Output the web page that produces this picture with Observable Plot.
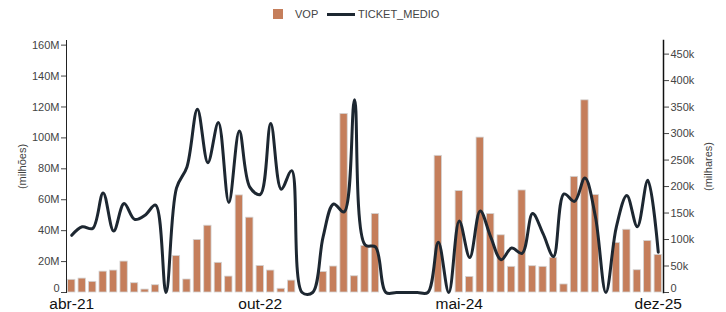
<!DOCTYPE html>
<html><head><meta charset="utf-8">
<script src="https://cdn.jsdelivr.net/npm/d3@7"></script>
<script src="https://cdn.jsdelivr.net/npm/@observablehq/plot@0.6"></script>
<style>
body{margin:0;background:#fff;font-family:"Liberation Sans",Arial,sans-serif;}
#legend{height:24px;position:relative;font-size:11px;color:#444;}
#legend .sq{position:absolute;left:273px;top:9px;width:10px;height:10px;}
#legend .ln{position:absolute;left:327px;top:13px;width:28px;height:3px;}
#legend .t{position:absolute;top:8px;line-height:13px;}
</style></head><body>
<div id="legend"></div>
<div id="chart"></div>
<script>
const months = ["abr-21","mai-21","jun-21","jul-21","ago-21","set-21","out-21","nov-21","dez-21",
"jan-22","fev-22","mar-22","abr-22","mai-22","jun-22","jul-22","ago-22","set-22","out-22","nov-22","dez-22",
"jan-23","fev-23","mar-23","abr-23","mai-23","jun-23","jul-23","ago-23","set-23","out-23","nov-23","dez-23",
"jan-24","fev-24","mar-24","abr-24","mai-24","jun-24","jul-24","ago-24","set-24","out-24","nov-24","dez-24",
"jan-25","fev-25","mar-25","abr-25","mai-25","jun-25","jul-25","ago-25","set-25","out-25","nov-25","dez-25"];
// VOP in millions
const vop = [8.2,9.0,6.9,13.5,14.2,20.0,6.0,1.9,4.7,0,
23.6,8.4,34.0,43.2,19.2,10.3,62.8,48.4,17.2,14.2,
2.4,7.7,0,0,13.3,16.8,115.5,10.5,30.1,50.8,
0,0,0,0,0,88.4,0,65.6,10.1,100.2,
50.8,37.0,16.6,66.0,17.0,16.6,22.4,5.2,74.8,124.3,
63.0,0,32.0,40.6,14.4,33.3,24.3];
// TICKET_MEDIO in thousands
const ticket = [108,124,121,188,116,168,138,146,165,0,
197,237,346,245,321,170,305,199,185,319,
195,230,0,0,105,167,152,364,90,86,
0,0,0,0,0,95,0,135,66,154,
105,62,84,74,149,111,68,186,172,216,
143,0,124,183,124,212,76];
const leftTicks = [0,20,40,60,80,100,120,140,160];
const rightTicks = [0,50,100,150,200,250,300,350,400,450];
const xTickLabels = ["abr-21","out-22","mai-24","dez-25"];
const seriesNames = ["VOP","TICKET_MEDIO"];
const colors = {bar:"#c57e5b", line:"#1d2731"};

const Y_MAX_M = 163, R_MAX_K = 475.7;
const ratio = Y_MAX_M / R_MAX_K;
const data = months.map((m,i)=>({m, vop:vop[i], t:ticket[i]}));

// legend
const lg = document.getElementById("legend");
lg.innerHTML = `<div class="sq" style="background:${colors.bar}"></div><span class="t" style="left:295px">${seriesNames[0]}</span>
<div class="ln" style="background:${colors.line}"></div><span class="t" style="left:358px">${seriesNames[1]}</span>`;

const chart = Plot.plot({
  width:726, height:288,
  marginLeft:66, marginRight:63, marginTop:16, marginBottom:20,
  style:{fontFamily:"'Liberation Sans', Arial, sans-serif", fontSize:"11px", background:"#fff", color:"#444"},
  x:{domain:months, paddingInner:0.3, paddingOuter:0.15, round:false, axis:null},
  y:{domain:[0,Y_MAX_M], axis:null},
  marks:[
    Plot.barY(data.filter(d=>d.vop>0), {x:"m", y:"vop", fill:colors.bar, stroke:"#d4d4d4", strokeWidth:0.8}),
    Plot.line(data, {x:"m", y:d=>d.t*ratio, stroke:colors.line, strokeWidth:3, curve:"catmull-rom"}),
    Plot.frame({anchor:"left", stroke:"#222"}),
    Plot.frame({anchor:"right", stroke:"#111", strokeWidth:1.5}),
    Plot.axisY(leftTicks, {anchor:"left", tickSize:5, tickPadding:2, fontSize:11, stroke:"#444",
      tickFormat:d=>d===0?"":d+"M", label:"(milhões)", labelAnchor:"center", labelOffset:48, labelArrow:"none"}),
    Plot.axisY(rightTicks.map(k=>k*ratio), {anchor:"right", tickSize:5, tickPadding:2, fontSize:11, stroke:"#444",
      tickFormat:v=>{const k=Math.round(v/ratio); return k===0?"":k+"k";}, label:"(milhares)", labelAnchor:"center", labelOffset:48, labelArrow:"none"}),
    Plot.text([leftTicks[0]], {y:d=>d, text:d=>String(d), frameAnchor:"left", textAnchor:"end", dx:-7, dy:-4, fontSize:11, fill:"#444"}),
    Plot.text([rightTicks[0]], {y:d=>d*ratio, text:d=>String(d), frameAnchor:"right", textAnchor:"start", dx:7, dy:-4, fontSize:11, fill:"#444"}),
    Plot.axisX(xTickLabels, {anchor:"bottom", tickSize:0, tickPadding:5, fontSize:15.5, fill:"#111", label:null})
  ]
});
document.getElementById("chart").appendChild(chart);
</script>
</body></html>
